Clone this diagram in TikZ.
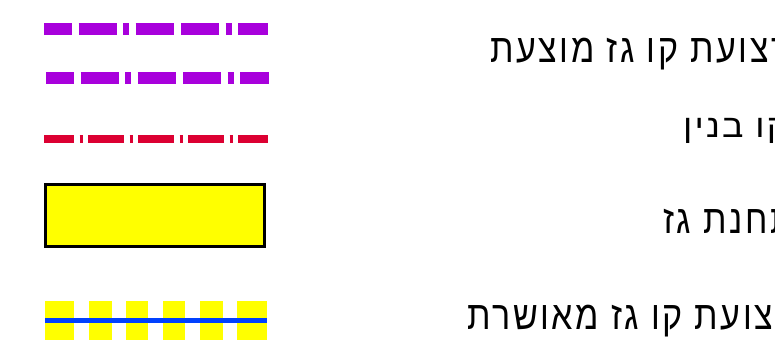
\documentclass[tikz,border=0pt]{standalone}
\usepackage{fontspec}
\newfontfamily\hebfont[Script=Hebrew,FakeStretch=0.85,LetterSpace=6.5]{Liberation Sans}
\newfontfamily\hebwidefont[Script=Hebrew,FakeStretch=1.12,LetterSpace=6.5]{Liberation Sans}
\TeXXeTstate=1
\definecolor{gaspurple}{RGB}{168,0,220}
\definecolor{linered}{RGB}{220,0,50}
\definecolor{gasblue}{RGB}{0,64,255}
\definecolor{gasyellow}{RGB}{255,255,0}
\tikzset{
  proposed/.style={draw=gaspurple, line width=12pt,
    dash pattern=on 38pt off 6.5pt on 6pt off 6.5pt on 38.5pt off 7pt, dash phase=68pt},
  buildline/.style={draw=linered, line width=8pt,
    dash pattern=on 36pt off 5.5pt on 3pt off 5.5pt, dash phase=6pt},
  label/.style={anchor=base west, inner sep=0pt}
}

\begin{document}
\begin{tikzpicture}[x=1pt, y=-1pt, every node/.style={font=\hebfont\fontsize{40}{42}\selectfont}]
\useasboundingbox (0,0) rectangle (775,353);
\clip (0,0) rectangle (775,353);
% proposed gas line strip
\draw[proposed] (44,29) -- (268,29);
\draw[proposed] (46,78) -- (269,78);
% building line
\draw[buildline] (44,139) -- (268,139);
% gas station
\draw[fill=gasyellow, line width=2.5pt] (45.5,184.5) rectangle (264.5,246.5);
% approved gas line strip
\foreach \a/\b in {45/74.3, 89.3/111.7, 126/148, 162.7/185.3, 200/222.7, 237.3/267.3}
  \fill[gasyellow] (\a,300.7) rectangle (\b,340);
\draw[gasblue, line width=5.5pt] (45,320.5) -- (267,320.5);
% labels
\node[label] (proposedlbl) at (490,62.7) {\beginR רצועת קו גז מוצעת\endR};
\node[label, font=\hebwidefont\fontsize{32}{34}\selectfont] (buildlbl) at (683,137) {\beginR קו בנין\endR};
\node[label] (stationlbl) at (663,233) {\beginR תחנת גז\endR};
\node[label] (approvedlbl) at (467,329) {\beginR רצועת קו גז מאושרת\endR};
\end{tikzpicture}
\end{document}
